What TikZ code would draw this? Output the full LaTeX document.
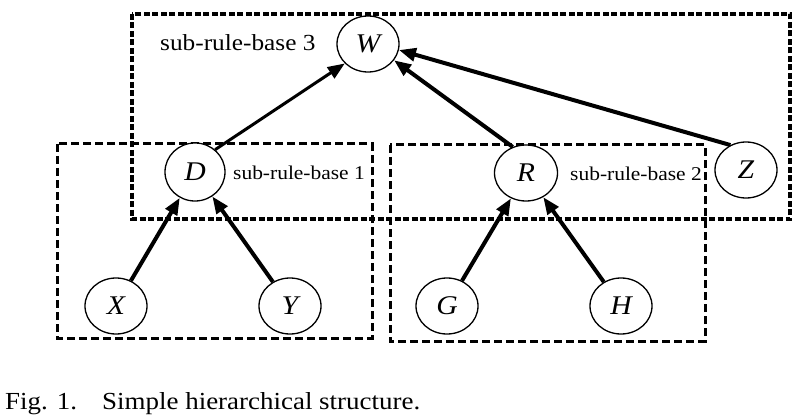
\documentclass[tikz,border=0pt]{standalone}
\usepackage{fontspec}
\setmainfont{Liberation Serif}[FakeStretch=1.1]
\usetikzlibrary{shapes.geometric,arrows.meta}
\begin{document}
\begin{tikzpicture}[x=1pt,y=-1pt,
  var/.style={ellipse,draw,fill=white,line width=1.3pt,inner sep=0pt,minimum width=62pt,minimum height=56pt,font=\fontsize{27}{30}\selectfont\itshape},
  bigbox/.style={draw,line width=4.5pt,dash pattern=on 6pt off 2.5pt},
  subbox/.style={draw,line width=3pt,dash pattern=on 8pt off 4pt},
  arr/.style={line width=4pt,-{Triangle[length=17pt,width=13pt]}},
  lbl/.style={inner sep=0pt,anchor=base west}]
\useasboundingbox (0,0) rectangle (806,417);
% boxes
\draw[bigbox] (132,14) rectangle (790,219);
\draw[subbox] (57,144) rectangle (372,338);
\draw[subbox] (390,145) rectangle (705,341);
% nodes
\node[var] (W) at (368,44) {W};
\node[var,minimum width=60pt,minimum height=58pt] (D) at (195,172) {D};
\node[var,minimum width=63pt] (R) at (526,173) {R};
\node[var] (Z) at (746,170) {Z};
\node[var] (X) at (116,306) {X};
\node[var] (Y) at (290,306) {Y};
\node[var] (G) at (447,306) {G};
\node[var] (H) at (621,306) {H};
% labels
\node[lbl,font=\fontsize{23}{26}\selectfont] (l3) at (160,51) {sub-rule-base 3};
\node[lbl,font=\fontsize{19.5}{22}\selectfont] (l1) at (233,179) {sub-rule-base 1};
\node[lbl,font=\fontsize{19.5}{22}\selectfont] (l2) at (570,180) {sub-rule-base 2};
% arrows
\draw[arr,line width=3pt] (D.48) -- (W.220);
\draw[arr] (R.117) -- (W.-32);
\draw[arr] (Z.122) -- (W.-11);
\draw[arr] (X) -- (D);
\draw[arr] (Y) -- (D);
\draw[arr] (G) -- (R);
\draw[arr] (H) -- (R);
% caption
\node[lbl,font=\fontsize{24.5}{28}\selectfont] (fig) at (5,409) {Fig. 1.};
\node[lbl,font=\fontsize{24.5}{28}\selectfont] (cap) at (102,409) {Simple hierarchical structure.};
\end{tikzpicture}
\end{document}
